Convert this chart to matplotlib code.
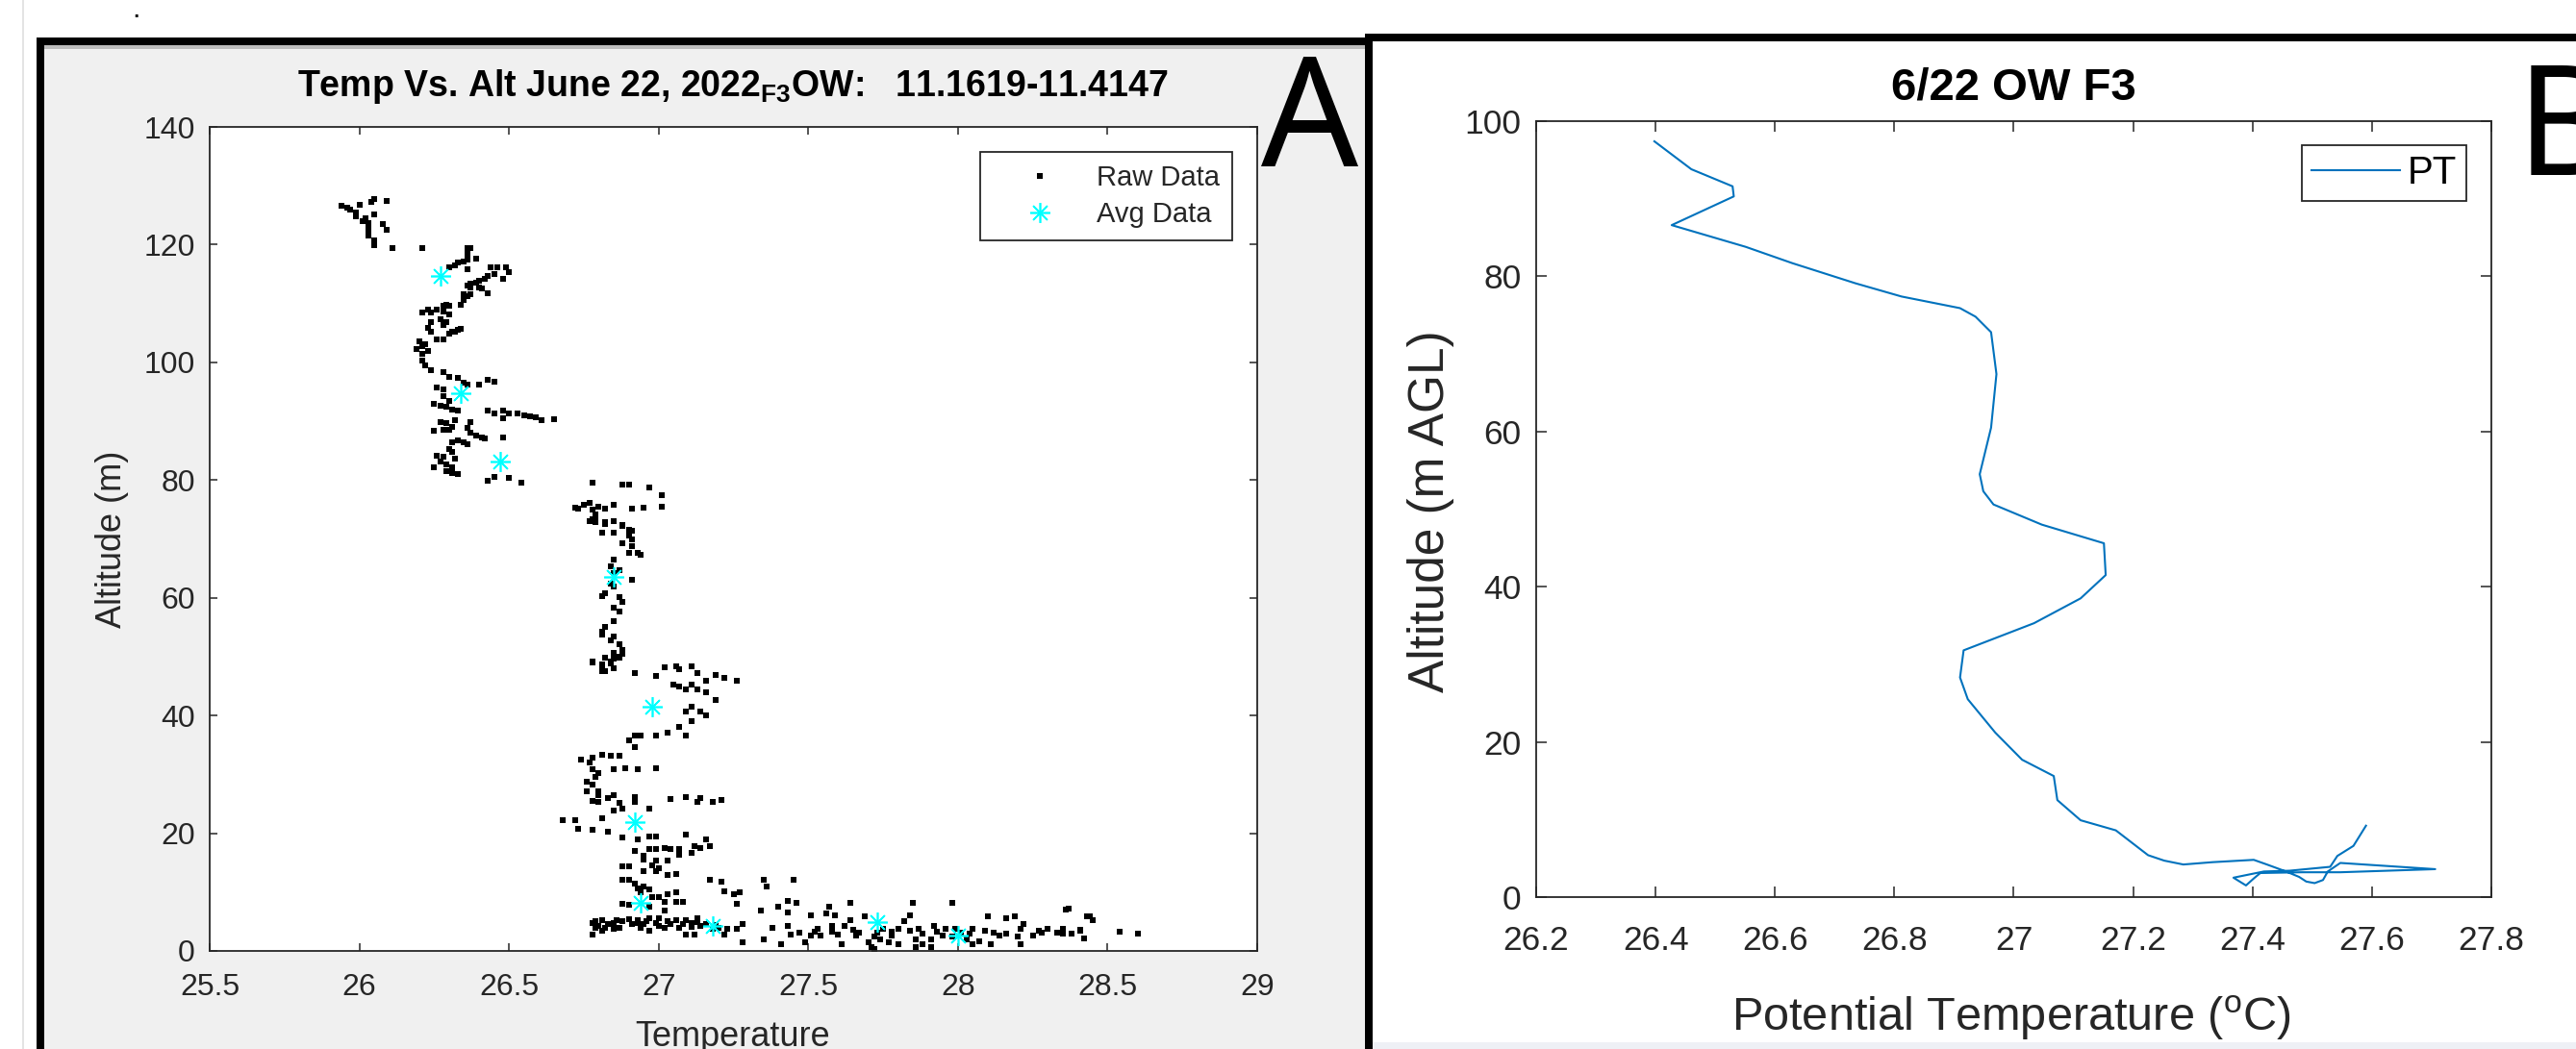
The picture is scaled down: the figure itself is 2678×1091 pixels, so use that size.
import numpy as np
import matplotlib
matplotlib.use("Agg")
import matplotlib.pyplot as plt
from matplotlib.patches import Rectangle
from matplotlib.ticker import FormatStrFormatter

plt.rcParams['font.family'] = ['Liberation Sans', 'DejaVu Sans']
plt.rcParams['mathtext.default'] = 'regular'

W, H = 2678, 1091

# ---- Panel A: raw temperature readings (temp degC, altitude m) ----
raw_upper = [
    (25.94, 126.6), (25.96, 126.3), (25.97, 125.9), (25.99, 125.4), (26.00, 126.7), (25.99, 124.8),
    (26.01, 124.0), (26.02, 124.5), (26.03, 123.7), (26.03, 122.9), (26.03, 122.1), (26.03, 121.5),
    (26.05, 125.1), (26.04, 127.3), (26.05, 127.8), (26.09, 127.5), (26.08, 123.5), (26.09, 122.6),
    (26.05, 120.7), (26.05, 119.9), (26.11, 119.4), (26.21, 119.4),
    (26.36, 119.4), (26.37, 119.4), (26.36, 118.5), (26.39, 117.7), (26.36, 117.5), (26.35, 117.2),
    (26.33, 116.9), (26.32, 116.5), (26.30, 116.1), (26.36, 115.8), (26.44, 116.1), (26.46, 116.1),
    (26.49, 116.1), (26.50, 115.3), (26.45, 115.0), (26.48, 114.2), (26.43, 114.7), (26.42, 114.2),
    (26.40, 113.9), (26.39, 113.6), (26.37, 113.4), (26.36, 113.1), (26.37, 112.8), (26.40, 112.8),
    (26.41, 112.6), (26.43, 111.7), (26.36, 111.2), (26.35, 110.6), (26.34, 109.8), (26.35, 111.5),
    (26.37, 111.5),
    (26.21, 108.5), (26.23, 109.0), (26.24, 108.5), (26.26, 109.0), (26.28, 109.6), (26.29, 109.8),
    (26.30, 109.6), (26.28, 108.7), (26.30, 108.2), (26.27, 107.4), (26.29, 106.8), (26.28, 106.3),
    (26.24, 106.8), (26.23, 105.8), (26.24, 105.2), (26.26, 103.9), (26.28, 103.9), (26.30, 104.9),
    (26.32, 105.2), (26.33, 105.5), (26.34, 105.7), (26.31, 105.2), (26.20, 103.6), (26.19, 102.2),
    (26.21, 102.8), (26.22, 103.0), (26.23, 101.9), (26.21, 101.4), (26.21, 100.3), (26.22, 99.5),
    (26.24, 98.7),
    (26.28, 98.4), (26.30, 97.6), (26.33, 97.3), (26.35, 96.5), (26.36, 96.2), (26.40, 96.2),
    (26.43, 97.0), (26.45, 96.7), (26.26, 95.7), (26.28, 95.4), (26.28, 94.3), (26.30, 93.5),
    (26.29, 92.4), (26.31, 91.9), (26.33, 91.8), (26.25, 92.9), (26.27, 92.7),
    (26.43, 91.8), (26.45, 91.4), (26.48, 91.8), (26.48, 90.5), (26.50, 91.4), (26.53, 91.4),
    (26.55, 91.0), (26.57, 90.8), (26.59, 90.7), (26.61, 90.2), (26.65, 90.4),
    (26.27, 89.9), (26.29, 89.7), (26.31, 89.1), (26.32, 90.2), (26.37, 89.9), (26.36, 88.9),
    (26.37, 88.0), (26.39, 87.5), (26.41, 87.2), (26.42, 87.0), (26.48, 87.2), (26.25, 88.3),
    (26.28, 88.6), (26.30, 88.6),
    (26.31, 86.4), (26.33, 86.7), (26.35, 86.4), (26.36, 86.1), (26.30, 85.3), (26.31, 84.8),
    (26.26, 84.2), (26.28, 84.0), (26.32, 83.7), (26.27, 83.1), (26.29, 82.6), (26.31, 82.1),
    (26.25, 82.1), (26.29, 81.5), (26.31, 81.2), (26.33, 81.0),
    (26.43, 79.9), (26.45, 80.5), (26.50, 80.3), (26.54, 79.6),
]

raw_middle = [
    (26.78, 79.6), (26.88, 79.3), (26.90, 79.2), (26.97, 78.7), (27.01, 77.5), (27.01, 75.5),
    (26.91, 75.2), (26.95, 75.3), (26.85, 75.8), (26.82, 75.2), (26.75, 75.8), (26.72, 75.3),
    (26.79, 74.1), (26.82, 72.9), (26.88, 72.3), (26.91, 71.4), (26.81, 71.1),
    (26.73, 75.2), (26.77, 76.1), (26.78, 75.0), (26.80, 75.5), (26.78, 73.4), (26.79, 73.9),
    (26.77, 73.1), (26.79, 72.8), (26.82, 72.5), (26.85, 73.1), (26.88, 72.2), (26.90, 71.6),
    (26.85, 71.1), (26.90, 70.5), (26.91, 69.9), (26.88, 69.3), (26.91, 68.8), (26.90, 67.6),
    (26.93, 67.6), (26.94, 67.3), (26.85, 66.5), (26.84, 65.3), (26.87, 64.7), (26.85, 64.2),
    (26.91, 63.0), (26.84, 62.4), (26.85, 61.9), (26.82, 60.7), (26.87, 60.1), (26.88, 59.3),
    (26.85, 58.4), (26.87, 57.6), (26.81, 60.3), (26.85, 56.1), (26.82, 55.0), (26.81, 53.8),
    (26.85, 53.5), (26.84, 52.7), (26.87, 52.1), (26.88, 51.2), (26.85, 50.7), (26.82, 49.8),
    (26.87, 49.8), (26.84, 49.2), (26.81, 48.7), (26.85, 48.1), (26.82, 47.5), (26.88, 50.4),
    (26.78, 49.0), (26.81, 54.3), (26.81, 48.6),
]

raw_lower = [
    (26.78, 49.1), (26.82, 49.9), (26.85, 49.7), (26.87, 50.0), (26.81, 48.3), (26.81, 47.5),
    (26.84, 48.8), (26.92, 47.2), (26.99, 46.8), (27.02, 48.2), (27.06, 48.3), (27.07, 47.8),
    (27.11, 48.4), (27.13, 47.2), (27.16, 45.9), (27.19, 46.9), (27.22, 46.4), (27.26, 45.9),
    (27.05, 45.3), (27.07, 45.0), (27.09, 44.5), (27.11, 45.3), (27.13, 44.5), (27.16, 43.9),
    (27.19, 42.6), (27.09, 40.7), (27.11, 41.5), (27.14, 40.7), (27.16, 40.1), (27.11, 39.0),
    (26.90, 35.8), (26.92, 36.6), (26.94, 36.6), (26.92, 34.7), (26.99, 36.6), (27.03, 37.1),
    (27.07, 38.0), (27.09, 36.6),
    (26.74, 32.5), (26.78, 32.8), (26.81, 33.3), (26.84, 33.2), (26.87, 33.1), (26.77, 32.0),
    (26.78, 30.9), (26.85, 30.9), (26.89, 31.1), (26.93, 30.8), (26.99, 31.1), (26.80, 30.3),
    (26.79, 29.5), (26.78, 28.2), (26.76, 28.7), (26.76, 27.1), (26.80, 27.1), (26.80, 26.5),
    (26.78, 25.5), (26.80, 25.4), (26.83, 26.0), (26.85, 26.5), (26.87, 25.2), (26.85, 23.8),
    (26.88, 24.1), (26.92, 26.2), (26.92, 25.4), (26.97, 24.1), (27.04, 25.8), (27.09, 26.2),
    (27.13, 25.3), (27.14, 26.0), (27.18, 25.4), (27.21, 25.7),
    (26.68, 22.2), (26.72, 22.2), (26.73, 20.8), (26.78, 20.6), (26.81, 22.6), (26.83, 20.3),
    (26.88, 19.2), (26.93, 18.9), (26.97, 19.4), (26.99, 19.4), (27.09, 19.7), (27.12, 17.8),
    (27.16, 18.9), (27.17, 17.8), (27.14, 17.5), (26.92, 17.0), (26.95, 16.2), (26.97, 17.3),
    (26.99, 17.3), (27.02, 17.4), (27.04, 17.3), (27.07, 17.3), (27.07, 16.4), (27.11, 16.7),
    (26.95, 15.6), (26.99, 15.4), (27.03, 15.4), (26.88, 14.4), (26.90, 14.4), (26.98, 14.5),
    (27.00, 14.0), (26.95, 13.5), (27.03, 12.9), (27.06, 13.0), (26.99, 13.6),
    (26.88, 12.1), (26.90, 12.1), (26.92, 11.5), (26.93, 10.7), (26.95, 11.0), (26.97, 10.5),
    (26.94, 9.9), (26.98, 9.1), (27.00, 9.1), (27.03, 9.6), (27.06, 9.9), (27.02, 8.3),
    (27.06, 8.3), (27.08, 8.3), (27.02, 6.9), (26.88, 8.0), (26.90, 7.9), (26.97, 7.5),
    (27.17, 12.1), (27.21, 11.8), (27.22, 10.2), (27.25, 9.6), (27.27, 9.9), (27.26, 8.0),
    (27.35, 12.1), (27.36, 11.0), (27.45, 12.1), (27.34, 6.9), (27.40, 7.5), (27.43, 8.5),
    (27.46, 8.1), (27.43, 6.6), (27.57, 7.5), (27.64, 8.1), (27.85, 8.1), (27.98, 8.1),
    (28.37, 7.2), (28.36, 7.0),
]

raw_surface = [
    (26.78, 4.7), (26.79, 3.9), (26.81, 5.3), (26.83, 4.5), (26.85, 4.7), (26.88, 5.0),
    (26.91, 4.5), (26.93, 5.3), (26.95, 4.5), (26.97, 5.6), (26.99, 4.7), (27.00, 4.2),
    (27.03, 5.0), (27.06, 5.3), (27.08, 4.5), (27.11, 4.7), (27.13, 5.6), (27.14, 4.2),
    (27.18, 3.7), (27.20, 3.9), (27.23, 3.7), (27.26, 3.7), (27.28, 4.5), (26.78, 2.8),
    (26.81, 3.4), (26.85, 3.8), (26.97, 3.4), (27.09, 2.8), (27.12, 2.8), (27.22, 2.8),
    (26.79, 5.0), (26.82, 4.0), (26.86, 5.2), (26.87, 4.0), (26.90, 5.4), (26.94, 4.0),
    (26.96, 5.0), (27.00, 5.5), (27.02, 4.0), (27.04, 4.6), (27.07, 4.0), (27.09, 5.2),
    (27.13, 4.9), (27.16, 4.5), (27.19, 4.4), (26.80, 4.3), (26.93, 4.8), (27.11, 4.1),
    (27.28, 1.5), (27.35, 2.0), (27.38, 3.9), (27.41, 1.2), (27.43, 4.2), (27.44, 2.8),
    (27.47, 3.1), (27.49, 1.5), (27.51, 6.1), (27.51, 2.6), (27.53, 3.7), (27.54, 2.6),
    (27.56, 6.4), (27.58, 4.2), (27.59, 6.1), (27.60, 2.8), (27.61, 1.2), (27.62, 4.2),
    (27.64, 5.3), (27.66, 2.6), (27.67, 3.1), (27.69, 5.8), (27.70, 1.5), (27.71, 0.7),
    (27.73, 3.1), (27.74, 2.0), (27.75, 3.7), (27.77, 1.5), (27.78, 2.6), (27.80, 3.7),
    (27.82, 5.0), (27.84, 6.1), (27.84, 3.4), (27.86, 2.0), (27.87, 3.7), (27.88, 1.2),
    (27.91, 2.0), (27.92, 4.2), (27.95, 2.6), (27.96, 3.7), (27.99, 3.7), (28.01, 3.1),
    (28.03, 2.0), (28.05, 3.7), (28.07, 1.7), (28.10, 5.8), (28.12, 3.1), (28.14, 2.6),
    (28.16, 5.6), (28.19, 5.8), (28.21, 3.7), (28.22, 4.5), (28.25, 2.6), (28.28, 3.1),
    (28.30, 3.7), (28.33, 3.1), (28.35, 3.7), (28.41, 3.4), (28.43, 5.8), (28.45, 5.3),
    (27.52, 3.3), (27.58, 3.3), (27.65, 3.6), (27.72, 2.4), (27.78, 3.2), (27.88, 2.9),
    (27.93, 3.3), (27.98, 2.4), (28.04, 3.0), (28.09, 3.4), (28.16, 3.0), (28.20, 2.5),
    (28.27, 3.4), (28.38, 3.0), (28.44, 5.9), (28.45, 5.3), (28.54, 3.2), (28.60, 2.9),
    (28.41, 3.6), (28.35, 3.0), (28.42, 2.2), (27.72, 0.4), (27.80, 1.2), (27.86, 0.7),
    (27.91, 0.7), (28.05, 1.2), (28.11, 1.2), (28.21, 1.2),
]

# averaged points
avg_temp = [26.27, 26.34, 26.47, 26.85, 26.98, 26.92, 26.94, 27.18, 27.73, 28.00]
avg_alt = [114.7, 94.7, 83.2, 63.6, 41.5, 21.9, 8.1, 4.3, 4.85, 2.56]

# ---- Panel B: potential temperature profile ----
pt_temp = [26.398, 26.460, 26.529, 26.531, 26.427, 26.551, 26.629, 26.735, 26.812, 26.910,
           26.936, 26.962, 26.971, 26.962, 26.943, 26.949, 26.966, 27.047, 27.151, 27.154,
           27.112, 27.034, 26.916, 26.910, 26.923, 26.969, 27.014, 27.067, 27.073, 27.112,
           27.171, 27.198, 27.225, 27.252, 27.284, 27.333, 27.402, 27.424, 27.456, 27.478,
           27.490, 27.504, 27.518, 27.526, 27.547, 27.706, 27.547, 27.483, 27.413, 27.402,
           27.389, 27.368, 27.419, 27.462, 27.530, 27.542, 27.569, 27.590]
pt_alt = [97.4, 93.8, 91.6, 90.3, 86.6, 83.8, 81.7, 79.1, 77.4, 75.9,
          74.8, 72.8, 67.4, 60.5, 54.5, 52.3, 50.6, 48.0, 45.6, 41.5,
          38.5, 35.3, 31.8, 28.3, 25.5, 21.2, 17.7, 15.6, 12.5, 9.9,
          8.6, 7.0, 5.4, 4.7, 4.2, 4.5, 4.8, 4.2, 3.3, 2.6,
          2.0, 1.8, 2.2, 3.3, 4.4, 3.6, 3.2, 3.2, 3.1, 2.4,
          1.5, 2.5, 3.3, 3.4, 3.9, 5.3, 6.6, 9.2]

GREY = '#262626'


def box(l, t, r, b):
    '''pixel box -> figure fraction rect'''
    return [l / W, 1 - b / H, (r - l) / W, (b - t) / H]


def strip(fig, l, t, r, b, color):
    fig.add_artist(Rectangle((l / W, 1 - b / H), (r - l) / W, (b - t) / H,
                             transform=fig.transFigure, facecolor=color,
                             edgecolor='none', zorder=-1))


def style_axes(ax, size, ticklen):
    for sp in ax.spines.values():
        sp.set_color(GREY)
        sp.set_linewidth(1.3)
    ax.tick_params(direction='in', top=True, right=True, length=ticklen, width=1.1,
                   color=GREY, labelcolor=GREY, labelsize=size)
    ax.xaxis.set_major_formatter(FormatStrFormatter('%g'))
    ax.yaxis.set_major_formatter(FormatStrFormatter('%g'))


fig = plt.figure(figsize=(W / 100, H / 100), dpi=100)
fig.patch.set_facecolor('white')

# page frames
strip(fig, 23, 0, 25, H, '#e4e4e4')
strip(fig, 46, 47, 1419, H, '#f0f0f0')
strip(fig, 46, 47, 1419, 51, '#bcbcbc')
strip(fig, 38, 39, 1427, 47, 'black')
strip(fig, 38, 39, 46, H, 'black')
strip(fig, 1419, 35, 1427, H, 'black')
strip(fig, 1419, 35, W, 43, 'black')
strip(fig, 1427, 1084, W, H, '#eef0f5')

fig.text(141 / W, 1 - 18 / H, '.', fontsize=22, ha='center', va='baseline')

# ---------- Panel A ----------
raw = np.array(raw_upper + raw_middle + raw_lower + raw_surface)
axA = fig.add_axes(box(218, 132, 1307, 989))
axA.plot(raw[:, 0], raw[:, 1], 's', ms=4.4, mew=0, color='k', label='Raw Data')
axA.plot(avg_temp, avg_alt, ls='none', marker=(8, 2, 0), ms=15, mec='#00ffff',
         mew=1.2, label='Avg Data')
axA.set_xlim(25.5, 29)
axA.set_ylim(0, 140)
axA.set_xticks(np.arange(25.5, 29.01, 0.5))
axA.set_yticks(np.arange(0, 141, 20))
style_axes(axA, 23, 6)
axA.tick_params(axis='x', pad=16.5)
axA.tick_params(axis='y', pad=11)

legA = axA.legend(loc='upper right', bbox_to_anchor=(0.976, 0.9697), borderaxespad=0,
                  fontsize=21, handlelength=3.4, handletextpad=0.3, borderpad=0.45,
                  labelspacing=0.35, fancybox=False, edgecolor=GREY, framealpha=1,
                  numpoints=1)
legA.get_frame().set_linewidth(1.3)
for t in legA.get_texts():
    t.set_color(GREY)

fig.text(762 / W, 1 - 100 / H,
         r'Temp Vs. Alt June 22, 2022$_\mathregular{F3}$OW:   11.1619-11.4147',
         fontsize=27, fontweight='bold', ha='center', va='baseline')
fig.text(762 / W, 1 - 1088 / H, 'Temperature', fontsize=26, color=GREY,
         ha='center', va='baseline')
fig.text(116 / W, 1 - 561 / H, 'Altitude (m)', fontsize=26, color=GREY,
         rotation=90, ha='center', va='center')
fig.text(1311 / W, 1 - 173 / H, 'A', fontsize=114, family='Noto Sans',
         ha='left', va='baseline')

# ---------- Panel B ----------
axB = fig.add_axes(box(1597, 126, 2590, 933))
axB.plot(pt_temp, pt_alt, color='#0072BD', lw=1.5, label='PT')
axB.set_xlim(26.2, 27.8)
axB.set_ylim(0, 100)
axB.set_xticks(np.arange(26.2, 27.81, 0.2))
axB.set_yticks(np.arange(0, 101, 20))
style_axes(axB, 25.5, 8)
axB.tick_params(axis='x', pad=21)
axB.tick_params(axis='y', pad=11)

legB = axB.legend(loc='upper right', bbox_to_anchor=(0.9738, 0.969), borderaxespad=0,
                  fontsize=29, handlelength=2.28, handletextpad=0.2, borderpad=0.25,
                  fancybox=False, edgecolor=GREY, framealpha=1)
legB.get_frame().set_linewidth(1.3)

fig.text(2093 / W, 1 - 104 / H, '6/22 OW F3', fontsize=34, fontweight='bold',
         ha='center', va='baseline')
fig.text(2091 / W, 1 - 1072 / H, r'Potential Temperature ($^\mathregular{o}$C)',
         fontsize=35, color=GREY, ha='center', va='baseline')
fig.text(1487 / W, 1 - 532 / H, 'Altitude (m AGL)', fontsize=37, color=GREY,
         rotation=90, ha='center', va='center')
fig.text(2616 / W, 1 - 182 / H, 'B', fontsize=114, family='Noto Sans',
         ha='left', va='baseline')

fig.savefig('out.png', dpi=100)
